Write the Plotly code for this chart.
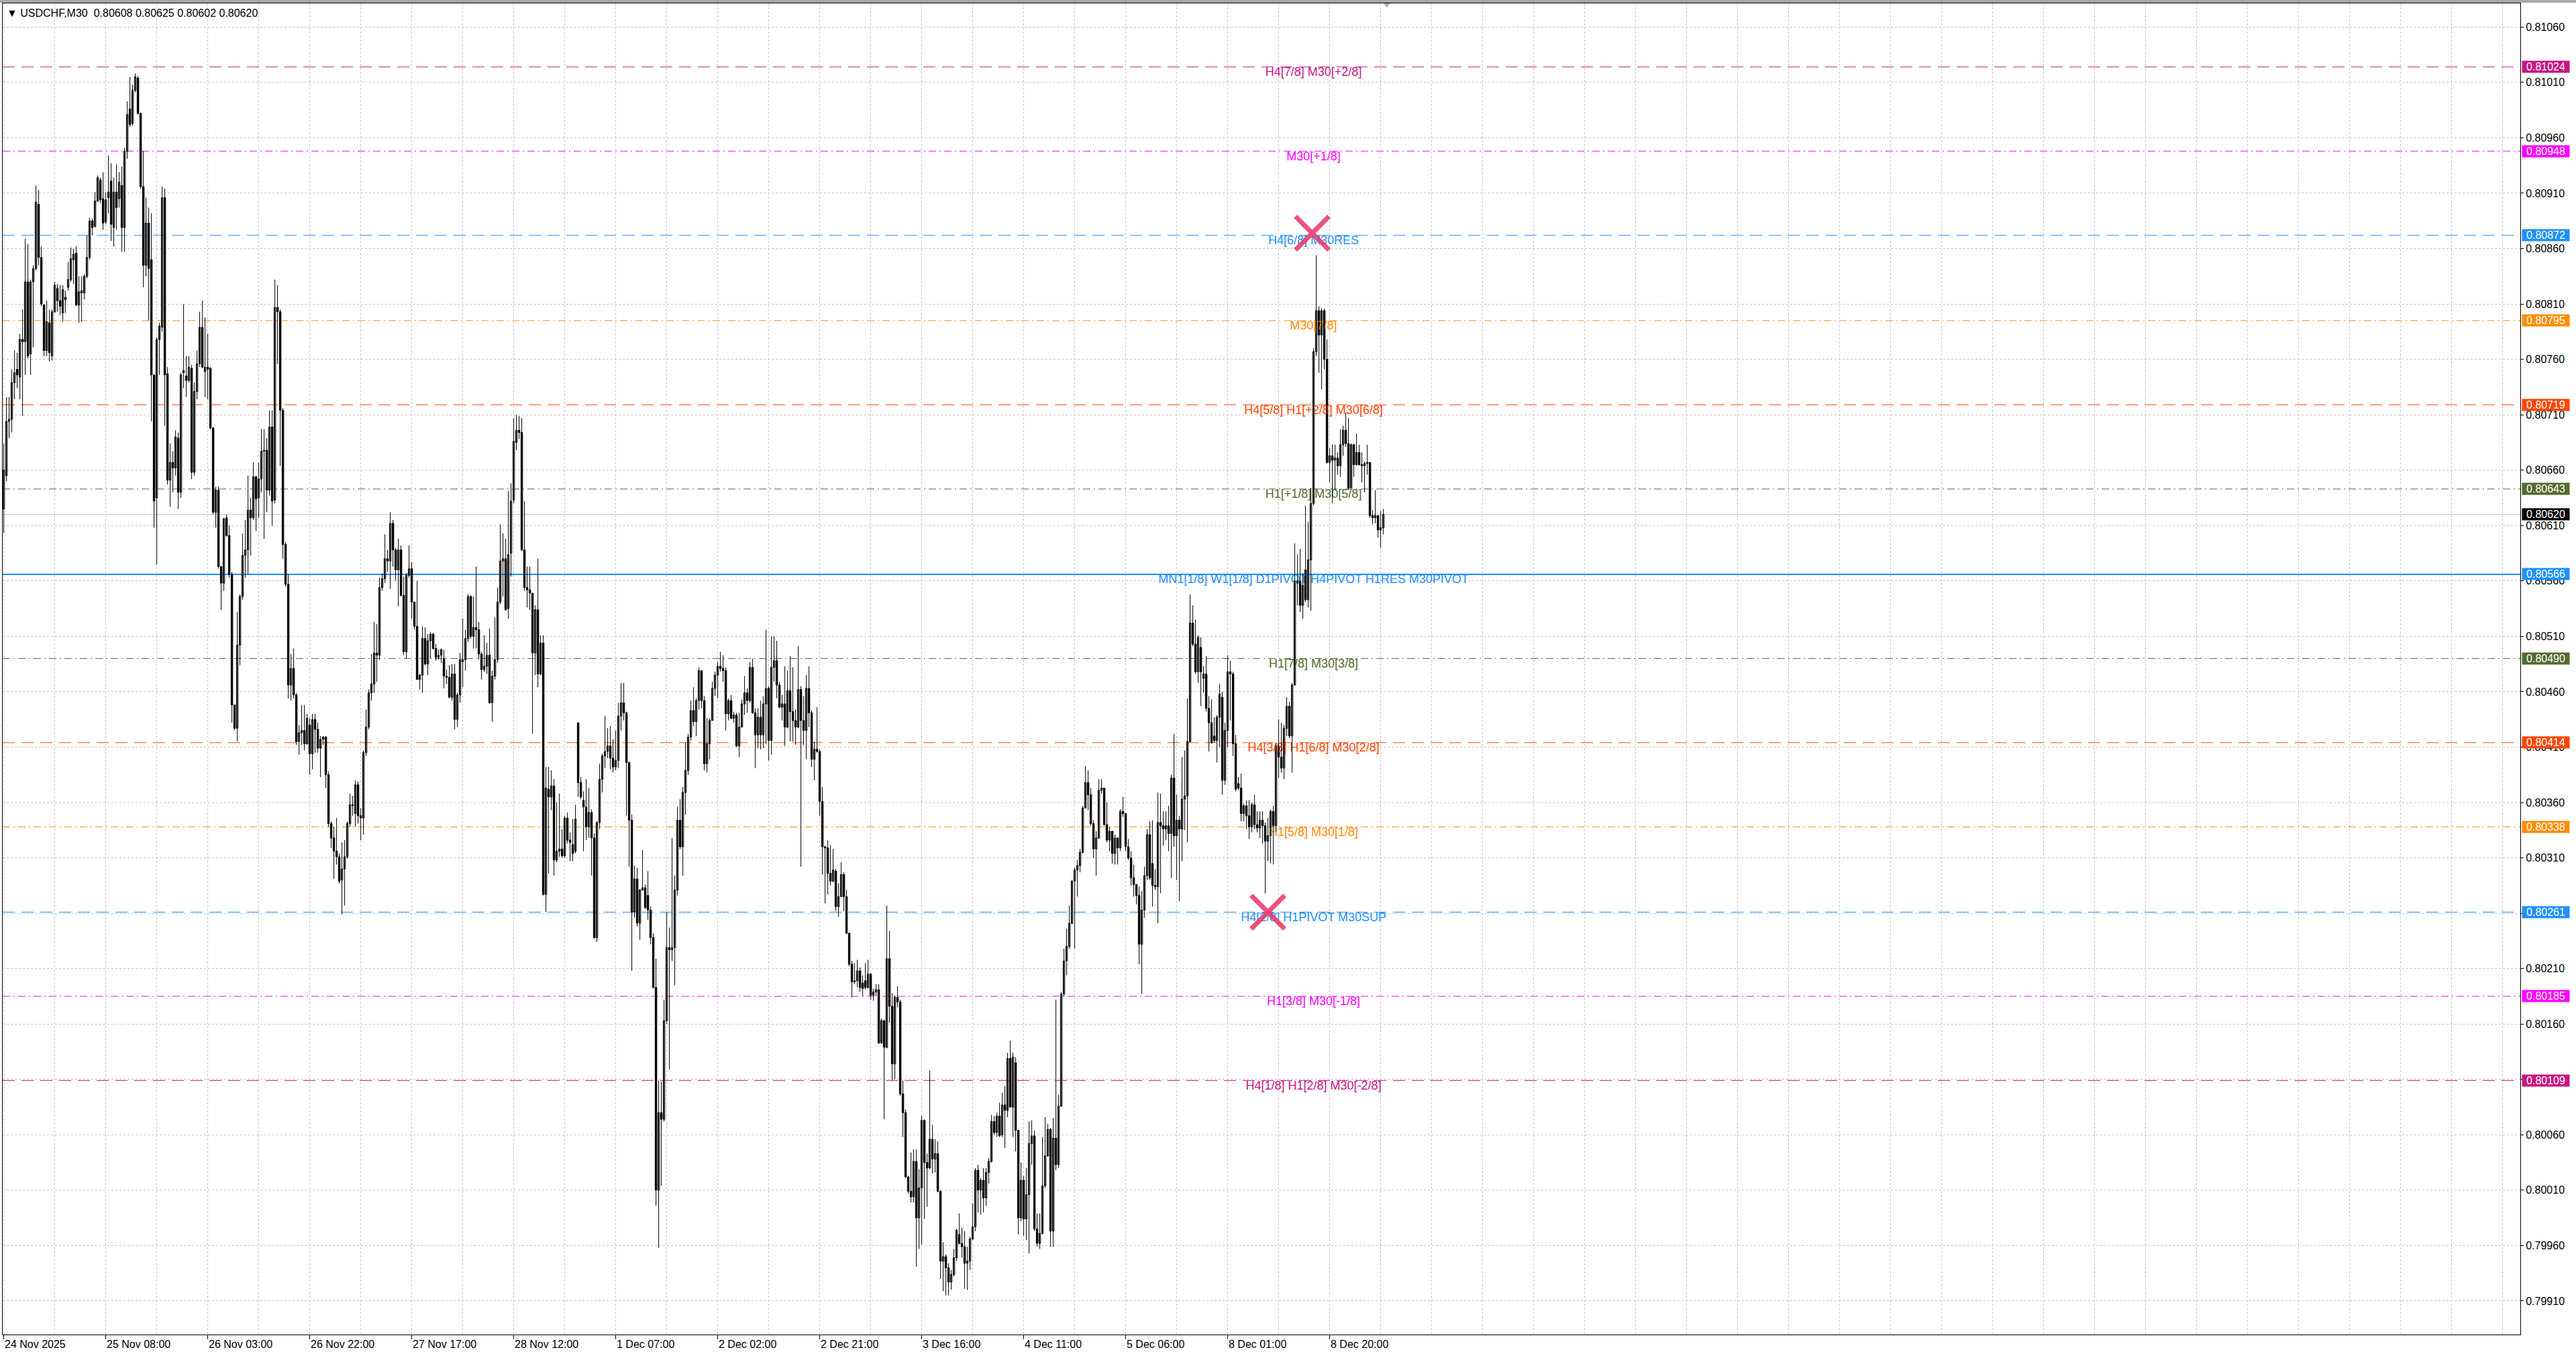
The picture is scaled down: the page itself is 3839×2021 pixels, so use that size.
import plotly.graph_objects as go

# ---------------- data (prices in points above 0.80000, 1 point = 0.00001) ----------------
BASE = 0.80000
POINT = 0.00001

OPEN_PTS = [
    625, 655, 704, 706, 739, 751, 744, 778, 776, 830,
    765, 830, 842, 900, 852, 809, 768, 793, 763, 803,
    824, 813, 802, 816, 825, 832, 850, 856, 809, 820,
    820, 835, 852, 885, 880, 903, 922, 905, 884, 906,
    921, 879, 911, 905, 917, 879, 948, 986, 973, 1003,
    1014, 982, 916, 845, 883, 850, 746, 635, 778, 789,
    906, 747, 651, 667, 662, 689, 640, 748, 745, 741,
    752, 658, 731, 756, 789, 749, 753, 752, 698, 622,
    642, 573, 558, 617, 601, 566, 448, 427, 502, 546,
    583, 588, 624, 617, 654, 635, 652, 677, 678, 642,
    699, 633, 807, 803, 714, 593, 557, 466, 481, 457,
    415, 423, 425, 413, 430, 404, 435, 426, 409, 417,
    419, 385, 341, 328, 316, 311, 290, 300, 311, 341, 358, 350,
    376, 348, 346, 405, 428, 459, 467, 495, 493, 554,
    562, 580, 578, 612, 588, 570, 588, 547, 496, 565,
    571, 541, 519, 471, 475, 508, 485, 506, 512, 499,
    491, 493, 490, 474, 473, 455, 476, 435, 457, 487,
    489, 508, 546, 510, 518, 516, 494, 480, 483, 493,
    450, 474, 489, 541, 578, 580, 535, 585, 633, 685, 696,
    694, 588, 554, 552, 549, 495, 534, 476, 504, 277,
    372, 365, 375, 308, 316, 318, 312, 346, 326, 322, 316,
    432, 378, 362, 356, 338, 351, 328, 238, 342,
    381, 402, 406, 411, 400, 392, 398, 438, 450, 441,
    396, 344, 261, 291, 251, 281, 283, 276, 263, 238,
    193, 10, 80, 74, 163, 229, 227, 229, 281, 344,
    320, 369, 389, 419, 443, 433,
    452, 479, 452, 395, 413, 434, 463, 475, 483, 481,
    479, 440, 452, 436, 439, 411, 428, 449, 459, 452,
    482, 441, 421, 437, 421, 449, 463, 416, 482, 488,
    466, 446, 449, 428, 461, 442, 434, 428, 462, 434,
    425, 463, 441, 399, 408, 406, 361, 320, 319, 296,
    289, 298, 266, 275, 295, 275, 242, 214, 198, 199,
    208, 197, 199, 193, 205, 186, 189, 191, 143, 163,
    139, 219, 176, 124, 184, 180, 97, 80, 22, 9,
    4, 36, -15, 12, 73, 35, 30, 56, 38, 43,
    9, -54, -50, -60, -73, -66, -51, -30, -38, -41,
    -56, -54, -34, -23, 28, 10, 19, 3, 26, 36,
    72, 62, 77, 60, 87, 82, 129, 85, 125, 64,
    -15, 19, -16, 6, 52, 59, -25, -38, -29, 14,
    41, 65, -27, 57, 33, 86, 187, 217, 230, 251,
    289, 299, 303, 315, 355, 378, 367, 341, 318, 328,
    371, 373, 340, 326, 334, 314, 328, 319, 352, 350,
    320, 310, 292, 286, 276, 232, 263, 294, 331, 305,
    285, 284, 342, 339, 336, 339, 332, 382, 330, 344,
    336, 363, 366, 415, 522, 503, 478, 500, 472, 476,
    445, 432, 420, 416, 437, 455, 380, 425, 478, 476,
    413, 377, 373, 350, 357, 348, 338, 358, 340, 337,
    344, 339, 325, 330, 352, 339, 411, 401, 391, 427,
    447, 420, 466, 558, 560, 538, 570, 543, 579, 630,
    767, 804, 782, 804, 760, 667, 673, 669, 671, 664,
    683, 696, 684, 644, 683, 665, 676, 665, 664, 666,
    667, 619, 617, 619, 606, 608,
]

HIGH_PTS = [
    684, 726, 726, 751, 768, 766, 783, 805, 869, 864,
    832, 845, 917, 913, 862, 810, 813, 805, 805, 830,
    828, 827, 827, 822, 848, 861, 860, 862, 835, 835,
    837, 872, 888, 887, 911, 926, 924, 929, 911, 944,
    937, 924, 936, 929, 934, 951, 993, 1015, 1008, 1018,
    1016, 983, 948, 906, 897, 892, 746, 780, 793, 916,
    914, 753, 684, 677, 696, 694, 748, 810, 763, 763,
    755, 739, 768, 803, 813, 798, 783, 753, 699, 645,
    645, 573, 617, 620, 610, 568, 448, 532, 548, 603,
    615, 655, 635, 667, 655, 667, 697, 697, 689, 714,
    714, 832, 827, 805, 716, 595, 566, 494, 499, 459,
    430, 448, 448, 440, 436, 440, 440, 432, 420, 420,
    420, 388, 343, 338, 346, 314, 324, 326, 343, 368, 366, 380,
    379, 355, 407, 444, 462, 494, 523, 521, 563, 567,
    602, 588, 622, 615, 590, 598, 592, 564, 567, 592,
    577, 541, 560, 476, 519, 518, 512, 514, 513, 503,
    498, 499, 498, 480, 484, 485, 485, 459, 495, 526,
    516, 548, 547, 546, 573, 523, 496, 511, 504, 517,
    479, 527, 554, 611, 603, 598, 641, 648, 707, 710, 709,
    707, 632, 573, 573, 549, 538, 580, 511, 511, 392,
    392, 389, 381, 360, 368, 336, 348, 351, 333, 345, 358,
    432, 383, 370, 381, 373, 354, 332, 343, 395,
    404, 438, 427, 429, 417, 425, 450, 468, 468, 442,
    397, 349, 303, 301, 282, 317, 286, 298, 266, 242,
    219, 109, 108, 182, 261, 247, 328, 294, 356, 363,
    374, 414, 422, 452, 464, 454,
    482, 479, 456, 436, 436, 469, 478, 487, 496, 493,
    482, 454, 457, 442, 441, 441, 453, 474, 463, 487,
    490, 445, 445, 452, 456, 516, 465, 510, 510, 506,
    469, 457, 483, 479, 492, 482, 444, 501, 465, 456,
    475, 483, 443, 415, 446, 408, 374, 321, 326, 322,
    318, 300, 287, 306, 297, 281, 242, 217, 215, 218,
    211, 204, 215, 218, 206, 192, 196, 196, 165, 164,
    267, 244, 188, 186, 194, 182, 109, 83, 23, 44,
    47, 47, 29, 77, 74, 43, 118, 69, 56, 54,
    10, -37, -48, -56, -62, -43, -25, -11, -24, -27,
    -41, -32, -2, 30, 33, 21, 30, 30, 39, 78,
    77, 80, 89, 98, 104, 134, 145, 134, 130, 64,
    35, 23, 30, 72, 73, 64, -11, -11, 58, 76,
    70, 66, 75, 182, 96, 189, 228, 246, 267, 290,
    301, 308, 318, 357, 393, 389, 373, 344, 334, 381,
    381, 373, 360, 338, 334, 331, 328, 354, 365, 350,
    327, 316, 304, 286, 284, 280, 302, 336, 343, 344,
    300, 369, 368, 352, 352, 357, 385, 422, 367, 348,
    401, 407, 454, 548, 538, 525, 511, 509, 483, 492,
    456, 453, 437, 439, 467, 460, 432, 493, 488, 478,
    421, 383, 386, 359, 362, 362, 360, 367, 352, 352,
    352, 342, 346, 354, 357, 414, 435, 432, 430, 455,
    451, 468, 594, 584, 589, 567, 628, 613, 644, 770,
    854, 808, 806, 806, 778, 680, 683, 683, 676, 697,
    700, 712, 707, 684, 684, 693, 683, 676, 668, 683,
    667, 624, 642, 619, 623, 625,
]

LOW_PTS = [
    603, 650, 689, 694, 724, 734, 724, 709, 746, 761,
    746, 771, 840, 845, 808, 763, 763, 758, 759, 802,
    803, 800, 794, 802, 822, 830, 828, 808, 793, 794,
    814, 833, 850, 872, 879, 902, 901, 877, 882, 892,
    867, 862, 877, 897, 857, 857, 941, 970, 971, 1001,
    981, 914, 825, 835, 795, 704, 608, 575, 746, 785,
    700, 647, 627, 640, 655, 625, 635, 734, 726, 739,
    652, 655, 724, 753, 752, 726, 724, 697, 620, 608,
    571, 534, 551, 600, 563, 432, 425, 415, 484, 543,
    563, 566, 583, 615, 605, 617, 640, 598, 622, 637,
    610, 630, 756, 664, 580, 555, 454, 452, 454, 412,
    403, 412, 407, 412, 385, 390, 405, 405, 383, 412,
    373, 338, 319, 291, 304, 287, 259, 267, 309, 338, 348, 338,
    341, 326, 331, 402, 426, 452, 459, 469, 489, 551,
    558, 568, 553, 573, 560, 537, 546, 493, 490, 563,
    526, 516, 471, 462, 459, 484, 475, 490, 498, 488,
    489, 486, 463, 467, 454, 452, 426, 428, 450, 464,
    479, 505, 508, 499, 499, 489, 471, 478, 476, 449,
    433, 471, 486, 539, 546, 533, 526, 564, 630, 678, 688,
    587, 551, 536, 534, 422, 475, 464, 475, 276, 261,
    296, 353, 294, 306, 311, 310, 310, 323, 307, 307, 314,
    365, 363, 316, 326, 328, 294, 237, 234, 336,
    369, 391, 400, 390, 387, 389, 391, 425, 434, 348,
    302, 208, 256, 248, 236, 280, 264, 254, 232, 192,
    -4, -42, 14, 72, 160, 119, 217, 195, 276, 318,
    294, 349, 385, 416, 429, 420,
    444, 445, 389, 387, 399, 434, 456, 454, 478, 469,
    425, 434, 435, 432, 410, 401, 428, 439, 441, 450,
    440, 391, 409, 408, 409, 413, 398, 403, 469, 454,
    445, 434, 411, 427, 415, 415, 412, 427, 302, 412,
    399, 428, 392, 380, 405, 348, 295, 269, 277, 285,
    288, 262, 257, 275, 262, 241, 212, 184, 196, 193,
    189, 185, 191, 192, 182, 181, 185, 142, 142, 74,
    138, 161, 109, 110, 175, 95, 58, 21, 7, -1,
    -1, -59, -43, -39, -16, -5, 29, 25, 26, 8,
    -70, -81, -85, -85, -80, -68, -54, -39, -51, -79,
    -80, -62, -35, -27, -10, -12, -10, -4, 16, 35,
    60, 58, 58, 58, 48, 76, 85, 58, 45, -30,
    -18, -31, -35, -47, 33, -27, -41, -43, -30, 12,
    40, -41, -41, 28, 30, 85, 185, 204, 228, 250,
    228, 275, 297, 314, 355, 353, 339, 310, 294, 327,
    368, 339, 324, 316, 305, 304, 304, 316, 347, 316,
    308, 285, 275, 268, 214, 187, 256, 290, 290, 266,
    281, 251, 278, 321, 326, 316, 292, 320, 290, 271,
    307, 335, 324, 414, 501, 476, 468, 447, 459, 442,
    406, 413, 414, 396, 410, 367, 376, 410, 434, 402,
    370, 371, 343, 343, 336, 327, 333, 336, 333, 328,
    323, 278, 307, 305, 304, 334, 382, 387, 381, 420,
    418, 387, 466, 538, 532, 526, 541, 536, 533, 628,
    763, 748, 733, 751, 666, 649, 630, 642, 656, 654,
    673, 681, 642, 644, 654, 664, 664, 649, 640, 656,
    617, 611, 612, 599, 590, 602,
]

CLOSE_PTS = [
    660, 704, 706, 739, 748, 746, 778, 776, 830, 763,
    830, 842, 902, 852, 810, 768, 794, 766, 803, 827,
    813, 808, 823, 814, 832, 851, 855, 809, 821, 822,
    835, 852, 885, 879, 903, 924, 904, 883, 904, 911,
    882, 911, 897, 920, 879, 948, 981, 972, 1003, 1015,
    982, 916, 845, 883, 842, 746, 632, 778, 790, 906,
    746, 651, 667, 662, 690, 640, 746, 750, 741, 753,
    658, 731, 756, 789, 753, 753, 751, 698, 622, 642,
    573, 558, 616, 601, 566, 448, 427, 502, 546, 583,
    588, 624, 617, 654, 634, 652, 677, 678, 642, 699,
    632, 807, 803, 714, 593, 557, 466, 481, 457, 415,
    423, 425, 413, 436, 404, 435, 426, 409, 417, 419,
    385, 341, 328, 316, 311, 289, 300, 311, 341, 358, 357, 376,
    348, 346, 405, 428, 459, 467, 495, 493, 554, 562,
    580, 578, 612, 588, 570, 588, 547, 496, 565, 571,
    541, 519, 471, 475, 508, 485, 506, 512, 499, 491,
    493, 498, 474, 473, 455, 476, 435, 457, 489, 489,
    508, 546, 510, 518, 516, 494, 480, 483, 493, 450,
    474, 489, 541, 578, 580, 534, 584, 632, 686, 696, 694,
    588, 554, 552, 549, 495, 534, 476, 504, 277, 373,
    365, 375, 308, 316, 318, 312, 346, 326, 324, 314, 345,
    378, 365, 356, 338, 351, 328, 238, 342, 381,
    402, 406, 411, 400, 392, 398, 438, 450, 441, 396,
    344, 261, 291, 251, 281, 283, 265, 263, 238, 193,
    10, 80, 74, 163, 229, 227, 229, 281, 344, 320,
    369, 389, 419, 443, 433, 452,
    479, 452, 395, 413, 434, 463, 475, 483, 481, 479,
    440, 452, 436, 439, 411, 428, 449, 459, 452, 482,
    441, 421, 437, 421, 449, 463, 416, 482, 488, 466,
    446, 449, 428, 461, 442, 434, 428, 462, 434, 425,
    463, 441, 399, 408, 406, 361, 320, 319, 296, 289,
    299, 266, 275, 295, 275, 242, 214, 198, 199, 208,
    193, 192, 193, 205, 186, 189, 191, 143, 163, 139,
    219, 176, 124, 184, 180, 97, 80, 22, 9, 4,
    36, -15, 12, 73, 35, 30, 56, 38, 43, 9,
    -54, -50, -60, -73, -66, -51, -26, -38, -41, -56,
    -54, -34, -23, 28, 10, 19, 3, 26, 36, 72,
    62, 77, 59, 87, 82, 129, 85, 130, 64, -15,
    19, -16, 6, 52, 59, -25, -38, -29, 14, 41,
    65, -27, 57, 33, 86, 187, 217, 230, 251, 289,
    299, 303, 315, 355, 378, 367, 341, 318, 328, 371,
    373, 340, 326, 334, 314, 328, 319, 352, 350, 320,
    310, 292, 286, 276, 232, 263, 294, 331, 292, 285,
    284, 342, 339, 336, 339, 332, 382, 330, 344, 336,
    363, 366, 415, 522, 503, 478, 509, 478, 476, 445,
    432, 414, 416, 437, 458, 380, 425, 478, 476, 413,
    372, 373, 350, 357, 348, 338, 358, 340, 337, 344,
    339, 325, 330, 352, 339, 411, 401, 391, 427, 447,
    420, 466, 560, 560, 538, 556, 543, 579, 630, 767,
    804, 782, 804, 760, 667, 673, 669, 671, 664, 683,
    696, 684, 644, 683, 665, 676, 665, 664, 666, 667,
    619, 617, 619, 606, 608, 620,
]

# Murrey-math style levels drawn on the chart
LEVELS = [0.81024, 0.80948, 0.80872, 0.80795, 0.80719, 0.80643, 0.80566,
          0.80490, 0.80414, 0.80338, 0.80261, 0.80185, 0.80109]
LEVEL_TEXT = [
    "H4[7/8] M30[+2/8]",
    "M30[+1/8]",
    "H4[6/8] M30RES",
    "M30[7/8]",
    "H4[5/8] H1[+2/8] M30[6/8]",
    "H1[+1/8] M30[5/8]",
    "MN1[1/8] W1[1/8] D1PIVOT H4PIVOT H1RES M30PIVOT",
    "H1[7/8] M30[3/8]",
    "H4[3/8] H1[6/8] M30[2/8]",
    "H1[5/8] M30[1/8]",
    "H4[2/8] H1PIVOT M30SUP",
    "H1[3/8] M30[-1/8]",
    "H4[1/8] H1[2/8] M30[-2/8]",
]
LEVEL_COLOR = ["#C71585", "#FF00FF", "#1E90FF", "#FF8C00", "#FF4500", "#556B2F", "#1E90FF",
               "#556B2F", "#FF4500", "#FF8C00", "#1E90FF", "#FF00FF", "#C71585"]
LEVEL_STYLE = ["dash", "dashdot", "dash", "dashdot", "dash", "dashdot", "solid",
               "dashdot", "dash", "dashdot", "dash", "dashdot", "dash"]
LEVEL_LABEL_BAR = 488

BID = 0.80620
TITLE = "USDCHF,M30\u00a0\u00a00.80608 0.80625 0.80602 0.80620"

Y_TICKS = [0.79910, 0.79960, 0.80010, 0.80060, 0.80110, 0.80160, 0.80210, 0.80260,
           0.80310, 0.80360, 0.80410, 0.80460, 0.80510, 0.80560, 0.80610, 0.80660,
           0.80710, 0.80760, 0.80810, 0.80860, 0.80910, 0.80960, 0.81010, 0.81060]

X_LABELS = ["24 Nov 2025", "25 Nov 08:00", "26 Nov 03:00", "26 Nov 22:00", "27 Nov 17:00",
            "28 Nov 12:00", "1 Dec 07:00", "2 Dec 02:00", "2 Dec 21:00", "3 Dec 16:00",
            "4 Dec 11:00", "5 Dec 06:00", "8 Dec 01:00", "8 Dec 20:00"]
X_LABEL_BARS = [0, 38, 76, 114, 152, 190, 228, 266, 304, 342, 380, 418, 456, 494]

MARK_BARS = [487.5, 471]
MARK_PRICES = [0.80874, 0.80261]

# ---------------- build ----------------
n = min(len(OPEN_PTS), len(HIGH_PTS), len(LOW_PTS), len(CLOSE_PTS))
o = [round(BASE + v * POINT, 5) for v in OPEN_PTS[:n]]
c = [round(BASE + v * POINT, 5) for v in CLOSE_PTS[:n]]
h = [max(round(BASE + v * POINT, 5), a, b) for v, a, b in zip(HIGH_PTS[:n], o, c)]
l = [min(round(BASE + v * POINT, 5), a, b) for v, a, b in zip(LOW_PTS[:n], o, c)]
bars = list(range(n))

W, H = 3839, 2021
ML, MR, MT, MB = 4, 83, 5, 32
X_RANGE = [-0.4, 937.6]
Y_RANGE = [0.798797, 0.810814]
FONT = "Liberation Sans, Arial, sans-serif"
GRID = "#C4C4C4"
BODY_W = 0.62

fig = go.Figure()

# level captions (under the candles)
fig.add_trace(go.Scatter(
    x=[LEVEL_LABEL_BAR] * len(LEVELS), y=LEVELS, mode="text", text=LEVEL_TEXT,
    textposition="bottom center",
    textfont=dict(color=LEVEL_COLOR, size=18, family=FONT),
    hoverinfo="skip", showlegend=False, cliponaxis=False,
))

# wicks
wx, wy = [], []
for i in bars:
    wx += [i, i, None]
    wy += [l[i], h[i], None]
fig.add_trace(go.Scatter(x=wx, y=wy, mode="lines", line=dict(color="#000000", width=1),
                         hoverinfo="skip", showlegend=False, connectgaps=False))

# bodies: bullish hollow, bearish filled
up = [i for i in bars if c[i] > o[i]]
dn = [i for i in bars if c[i] <= o[i]]
fig.add_trace(go.Bar(
    x=up, base=[o[i] for i in up], y=[c[i] - o[i] for i in up], width=BODY_W,
    marker=dict(color="#FFFFFF", line=dict(color="#000000", width=1)),
    hoverinfo="skip", showlegend=False,
))
fig.add_trace(go.Bar(
    x=dn, base=[c[i] for i in dn], y=[max(o[i] - c[i], 0.000004) for i in dn], width=BODY_W,
    marker=dict(color="#000000", line=dict(color="#000000", width=1)),
    hoverinfo="skip", showlegend=False,
))

# red crosses
fig.add_trace(go.Scatter(
    x=MARK_BARS, y=MARK_PRICES, mode="markers",
    marker=dict(symbol="x-thin", size=50, color="rgba(232,52,100,0.85)",
                line=dict(color="rgba(232,52,100,0.85)", width=7)),
    hoverinfo="skip", showlegend=False,
))

# chart-shift marker at top
fig.add_trace(go.Scatter(
    x=[n - 1 + 1.3], y=[Y_RANGE[1]], mode="markers",
    marker=dict(symbol="triangle-down", size=13, color="#B4B4B4"),
    hoverinfo="skip", showlegend=False, cliponaxis=False,
))

shapes = []
dash_map = {"dash": "18px,10px", "dashdot": "11px,5px,2px,5px", "solid": "solid"}
for lv, col, st in zip(LEVELS, LEVEL_COLOR, LEVEL_STYLE):
    shapes.append(dict(type="line", xref="paper", x0=0, x1=1, yref="y", y0=lv, y1=lv,
                       line=dict(color=col, width=2 if st == "solid" else 1, dash=dash_map[st]),
                       layer="between"))
shapes.append(dict(type="line", xref="paper", x0=0, x1=1, yref="y", y0=BID, y1=BID,
                   line=dict(color="#C0C0C0", width=1), layer="between"))
# window chrome strip at the very top
shapes.append(dict(type="rect", xref="paper", x0=-0.01, x1=1.1, yref="paper",
                   y0=1 + 1.0 / (H - MT - MB), y1=1 + 6.0 / (H - MT - MB),
                   fillcolor="#A8A8A8", line=dict(width=0), layer="above"))

annotations = []
# price boxes on the axis
for lv, col in zip(LEVELS, LEVEL_COLOR):
    annotations.append(dict(x=1, xref="paper", xanchor="left", xshift=2, y=lv, yref="y",
                            yanchor="middle", text=f"{lv:.5f}", showarrow=False,
                            font=dict(color="#FFFFFF", size=16, family=FONT),
                            bgcolor=col, width=70, height=17, borderpad=0, align="center"))
annotations.append(dict(x=1, xref="paper", xanchor="left", xshift=2, y=BID, yref="y",
                        yanchor="middle", text=f"{BID:.5f}", showarrow=False,
                        font=dict(color="#FFFFFF", size=16, family=FONT),
                        bgcolor="#000000", width=70, height=17, borderpad=0, align="center"))
# time labels (left-aligned at their tick)
for b, t in zip(X_LABEL_BARS, X_LABELS):
    annotations.append(dict(x=b, xref="x", xanchor="left", xshift=-1, y=0, yref="paper",
                            yanchor="top", yshift=-4, text=t, showarrow=False,
                            font=dict(color="#000000", size=16, family=FONT)))
# title
annotations.append(dict(x=0, xref="paper", xanchor="left", xshift=4, y=1, yref="paper",
                        yanchor="middle", yshift=-14, text="\u25BC\u00a0" + TITLE,
                        showarrow=False, font=dict(color="#000000", size=16, family=FONT)))

grid_step = 19
minor_vals = [g for g in range(0, int(X_RANGE[1]) + 1, grid_step) if g not in X_LABEL_BARS]

fig.update_layout(
    width=W, height=H, margin=dict(l=ML, r=MR, t=MT, b=MB, autoexpand=False),
    paper_bgcolor="#FFFFFF", plot_bgcolor="#FFFFFF",
    showlegend=False, hovermode=False, barmode="overlay", bargap=0,
    shapes=shapes, annotations=annotations,
    xaxis=dict(
        range=X_RANGE, fixedrange=True,
        tickmode="array", tickvals=X_LABEL_BARS, showticklabels=False,
        ticks="outside", ticklen=6, tickcolor="#000000", tickwidth=1,
        showgrid=True, gridcolor=GRID, griddash="3px,3px", gridwidth=1,
        minor=dict(tickmode="array", tickvals=minor_vals, showgrid=True,
                   gridcolor=GRID, griddash="3px,3px", gridwidth=1, ticks=""),
        showline=True, linecolor="#000000", linewidth=1, mirror=True, zeroline=False,
    ),
    yaxis=dict(
        range=Y_RANGE, side="right", fixedrange=True,
        tickmode="array", tickvals=Y_TICKS, ticktext=[f"{v:.5f}" for v in Y_TICKS],
        ticks="outside", ticklen=4, tickcolor="#000000",
        tickfont=dict(size=16, family=FONT, color="#000000"),
        showgrid=True, gridcolor=GRID, griddash="3px,3px", gridwidth=1,
        showline=True, linecolor="#000000", linewidth=1, mirror=True, zeroline=False,
    ),
)

fig.write_html("out.html", config={"displayModeBar": False, "staticPlot": True},
               post_script="document.body.style.margin='0px';")
